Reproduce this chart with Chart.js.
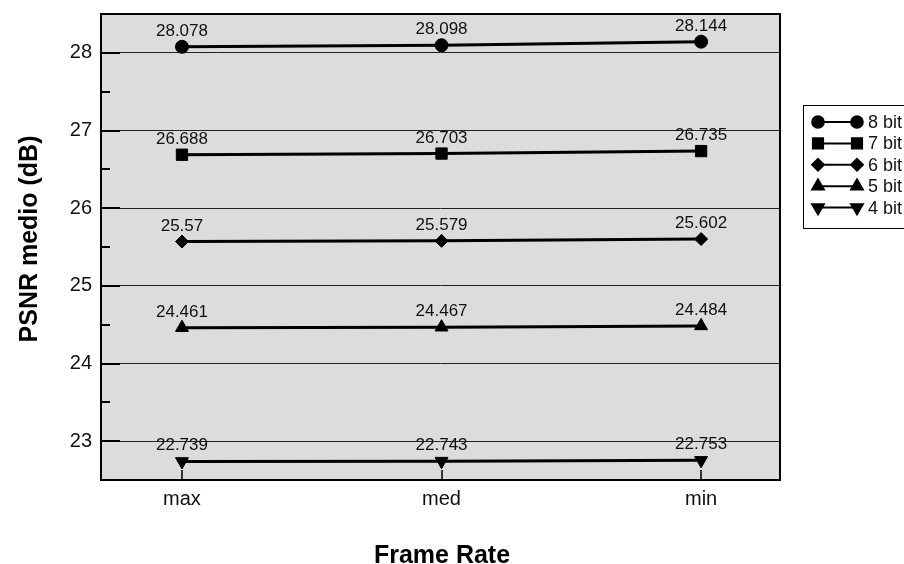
<!DOCTYPE html>
<html>
<head>
<meta charset="utf-8">
<script src="https://cdn.jsdelivr.net/npm/chart.js@4.4.1/dist/chart.umd.min.js"></script>
<style>
  html, body { margin: 0; padding: 0; background: #fff; }
  #wrap { width: 904px; height: 564px; }
</style>
</head>
<body>
<div id="wrap"><canvas id="chart" width="904" height="564"></canvas></div>
<script>
// Frame-rate settings on the x axis
const frameRates = ['max', 'med', 'min'];

// Mean PSNR (dB) per quantisation depth
const psnr8bit = [28.078, 28.098, 28.144];
const psnr7bit = [26.688, 26.703, 26.735];
const psnr6bit = [25.57, 25.579, 25.602];
const psnr5bit = [24.461, 24.467, 24.484];
const psnr4bit = [22.739, 22.743, 22.753];

const seriesNames = ['8 bit', '7 bit', '6 bit', '5 bit', '4 bit'];
const seriesValues = [psnr8bit, psnr7bit, psnr6bit, psnr5bit, psnr4bit];

// Y axis range and tick labels
const yMin = 22.5;
const yMax = 28.5;
const yTickLabels = [23, 24, 25, 26, 27, 28];

const markerStyles = [
  { pointStyle: 'circle',   radius: 6.5, rotation: 0 },
  { pointStyle: 'rect',     radius: 8,   rotation: 0 },
  { pointStyle: 'rectRot',  radius: 6.5, rotation: 0 },
  { pointStyle: 'triangle', radius: 7.5, rotation: 0 },
  { pointStyle: 'triangle', radius: 7.5, rotation: 180 }
];

const FONT = '"Liberation Sans", Arial, Helvetica, sans-serif';

// Plot rectangle inside the canvas
const AREA = { left: 101, top: 14, right: 780, bottom: 480 };

const datasets = seriesNames.map((name, s) => ({
  label: name,
  data: seriesValues[s].map((v, i) => ({ x: i, y: v })),
  borderColor: '#000',
  backgroundColor: '#000',
  borderWidth: 3,
  pointStyle: markerStyles[s].pointStyle,
  pointRadius: markerStyles[s].radius,
  pointRotation: markerStyles[s].rotation,
  pointBorderWidth: 1,
  pointBackgroundColor: '#000',
  pointBorderColor: '#000',
  pointHoverRadius: markerStyles[s].radius,
  tension: 0
}));

// Grey plot background, inward ticks and black frame
const plotFrame = {
  id: 'plotFrame',
  beforeDraw(chart) {
    const { ctx, chartArea: a } = chart;
    ctx.save();
    ctx.fillStyle = '#dcdcdc';
    ctx.fillRect(a.left, a.top, a.right - a.left, a.bottom - a.top);
    ctx.restore();
  },
  afterDraw(chart) {
    const { ctx, chartArea: a, scales } = chart;
    ctx.save();
    ctx.strokeStyle = '#000';
    ctx.lineWidth = 2;
    for (let v = yMin; v <= yMax + 1e-9; v += 0.5) {
      const y = Math.round(scales.y.getPixelForValue(v));
      const len = Number.isInteger(v) ? 19 : 9;
      ctx.beginPath();
      ctx.moveTo(a.left, y);
      ctx.lineTo(a.left + len, y);
      ctx.stroke();
    }
    ctx.lineWidth = 1.5;
    frameRates.forEach((_, i) => {
      const x = Math.round(scales.x.getPixelForValue(i));
      ctx.beginPath();
      ctx.moveTo(x, a.bottom);
      ctx.lineTo(x, a.bottom - 10);
      ctx.stroke();
    });
    ctx.lineWidth = 2;
    ctx.strokeRect(a.left, a.top, a.right - a.left, a.bottom - a.top);
    ctx.restore();
  }
};

// Value labels above every point
const valueLabels = {
  id: 'valueLabels',
  afterDatasetsDraw(chart) {
    const { ctx } = chart;
    ctx.save();
    ctx.fillStyle = '#111';
    ctx.font = '17px ' + FONT;
    ctx.textAlign = 'center';
    ctx.textBaseline = 'alphabetic';
    chart.data.datasets.forEach((ds, s) => {
      const meta = chart.getDatasetMeta(s);
      meta.data.forEach((pt, i) => {
        ctx.fillText(String(seriesValues[s][i]), pt.x, pt.y - 11);
      });
    });
    ctx.restore();
  }
};

// Axis titles
const axisTitles = {
  id: 'axisTitles',
  afterDraw(chart) {
    const { ctx } = chart;
    ctx.save();
    ctx.fillStyle = '#000';
    ctx.font = 'bold 25px ' + FONT;
    ctx.textAlign = 'center';
    ctx.textBaseline = 'alphabetic';
    ctx.fillText('Frame Rate', 442, 563);
    ctx.translate(37, 239);
    ctx.rotate(-Math.PI / 2);
    ctx.fillText('PSNR medio (dB)', 0, 0);
    ctx.restore();
  }
};

// Legend box with a line and two markers per series
const lineLegend = {
  id: 'lineLegend',
  afterDraw(chart) {
    const { ctx } = chart;
    const bx = 803, by = 105, bw = 130, bh = 123;
    ctx.save();
    ctx.fillStyle = '#fff';
    ctx.fillRect(bx, by, bw, bh);
    ctx.strokeStyle = '#000';
    ctx.lineWidth = 1;
    ctx.strokeRect(bx + 0.5, by + 0.5, bw, bh);
    ctx.font = '18px ' + FONT;
    ctx.textAlign = 'left';
    ctx.textBaseline = 'middle';
    seriesNames.forEach((name, s) => {
      const y = 122 + s * 21.4;
      const x1 = 818, x2 = 857;
      ctx.strokeStyle = '#000';
      ctx.lineWidth = 2;
      ctx.beginPath();
      ctx.moveTo(x1, y);
      ctx.lineTo(x2, y);
      ctx.stroke();
      const m = markerStyles[s];
      const opts = { pointStyle: m.pointStyle, radius: m.radius * 0.9, rotation: m.rotation, borderWidth: 1 };
      ctx.fillStyle = '#000';
      Chart.helpers.drawPoint(ctx, opts, x1, y);
      Chart.helpers.drawPoint(ctx, opts, x2, y);
      ctx.fillStyle = '#111';
      ctx.fillText(name, 868, y + 1);
    });
    ctx.restore();
  }
};

new Chart(document.getElementById('chart'), {
  type: 'line',
  data: { datasets },
  plugins: [plotFrame, valueLabels, axisTitles, lineLegend],
  options: {
    responsive: false,
    animation: false,
    events: [],
    layout: { padding: { top: AREA.top, right: 904 - AREA.right, left: 0, bottom: 0 } },
    plugins: {
      legend: { display: false },
      tooltip: { enabled: false }
    },
    scales: {
      x: {
        type: 'linear',
        min: -0.312,
        max: 2.304,
        afterFit(scale) {
          scale.height = 564 - AREA.bottom;
          scale.paddingLeft = 0;
          scale.paddingRight = 0;
        },
        afterBuildTicks(scale) {
          scale.ticks = frameRates.map((_, i) => ({ value: i }));
        },
        grid: { display: false, drawTicks: false },
        border: { display: false },
        ticks: {
          autoSkip: false,
          maxRotation: 0,
          padding: 7,
          color: '#111',
          font: { family: FONT, size: 20 },
          callback: (v) => frameRates[v]
        }
      },
      y: {
        type: 'linear',
        min: yMin,
        max: yMax,
        afterFit(scale) {
          scale.width = AREA.left;
          scale.paddingTop = 0;
          scale.paddingBottom = 0;
        },
        afterBuildTicks(scale) {
          scale.ticks = yTickLabels.map(v => ({ value: v }));
        },
        grid: {
          drawTicks: false,
          color: '#222',
          lineWidth: 1
        },
        border: { display: false },
        ticks: {
          autoSkip: false,
          padding: 9,
          color: '#111',
          font: { family: FONT, size: 20 },
          callback: (v) => String(v)
        }
      }
    }
  }
});
</script>
</body>
</html>
